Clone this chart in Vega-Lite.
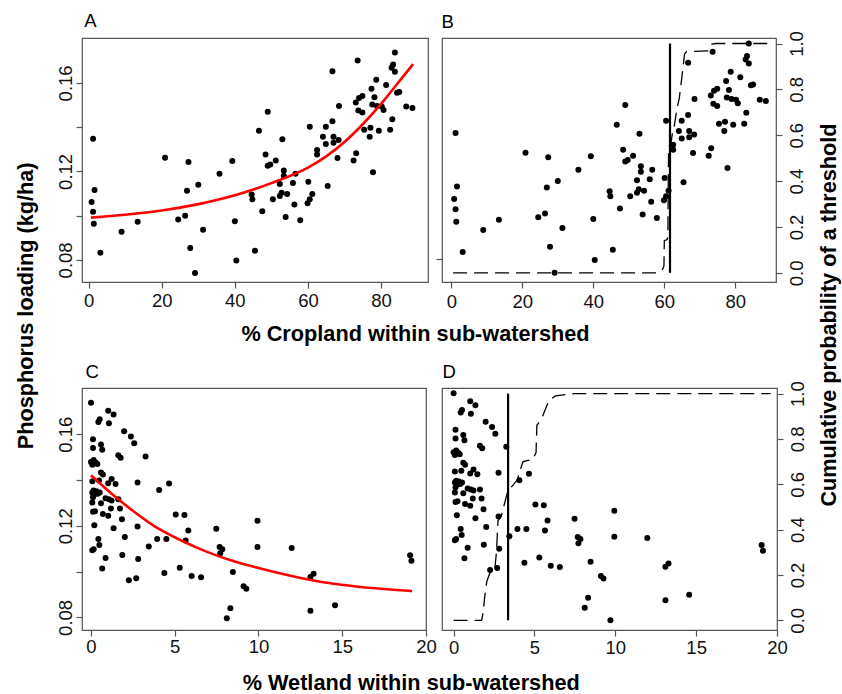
{
  "$schema": "https://vega.github.io/schema/vega-lite/v6.json",
  "background": "white",
  "autosize": {"type": "pad"},
  "padding": {"left": 14, "top": 10, "right": 0, "bottom": 0},
  "columns": 2,
  "spacing": {"row": 106, "column": 14},
  "bounds": "flush",
  "align": "each",
  "config": {
    "font": "Liberation Sans",
    "view": {"stroke": "#555", "strokeWidth": 1.2},
    "axis": {"domain": false, "grid": false, "ticks": true, "tickColor": "#555", "tickWidth": 1.2, "tickSize": 6,
      "labelFont": "Liberation Sans", "labelFontSize": 18.5, "labelColor": "#111", "labelFlush": false, "labelOverlap": false, "labelBound": false,
      "titleFont": "Liberation Sans", "titleFontSize": 21.7, "titleFontWeight": "bold", "titleColor": "#000"},
    "axisX": {"labelAngle": 0, "labelAlign": "center", "labelBaseline": "alphabetic"},
    "axisY": {"labelAngle": -90, "labelAlign": "center", "labelBaseline": "alphabetic"}
  },
  "datasets": {
    "crop": [
      {"x":1.2,"p":0.1348},{"x":1.6,"p":0.1116},{"x":0.8,"p":0.1062},{"x":1.2,"p":0.1017},{"x":1.4,"p":0.0963},{"x":3.2,"p":0.0832},{"x":9.0,"p":0.0927},{"x":13.4,"p":0.0972},{"x":20.9,"p":0.1262},{"x":24.5,"p":0.0982},{"x":26.4,"p":0.0999},{"x":27.3,"p":0.1243},{"x":26.9,"p":0.1112},{"x":27.8,"p":0.0854},{"x":29.1,"p":0.0741},{"x":30.0,"p":0.1140},{"x":31.3,"p":0.0936},{"x":35.8,"p":0.1189},{"x":39.3,"p":0.1247},{"x":40.0,"p":0.0975},{"x":40.4,"p":0.0797},
      {"x":49.0,"p":0.1470},{"x":46.6,"p":0.1384},{"x":53.0,"p":0.1345},{"x":60.5,"p":0.1402},{"x":64.9,"p":0.1402},{"x":66.7,"p":0.1427},{"x":66.7,"p":0.1653},{"x":68.5,"p":0.1496},{"x":64.1,"p":0.1357},{"x":64.9,"p":0.1324},{"x":67.0,"p":0.1357},{"x":67.0,"p":0.1330},{"x":68.4,"p":0.1342},{"x":68.1,"p":0.1261},{"x":62.5,"p":0.1297},{"x":62.5,"p":0.1276},{"x":65.4,"p":0.1134},{"x":60.1,"p":0.1153},{"x":61.2,"p":0.1098},{"x":60.5,"p":0.1074},{"x":59.9,"p":0.1056},{"x":57.9,"p":0.0979},{"x":56.6,"p":0.1189},{"x":55.9,"p":0.1147},{"x":56.3,"p":0.1050},{"x":53.9,"p":0.0994},{"x":53.4,"p":0.1204},{"x":53.4,"p":0.1180},{"x":52.3,"p":0.1143},{"x":52.8,"p":0.1104},{"x":52.3,"p":0.1089},{"x":54.3,"p":0.1098},{"x":50.4,"p":0.1074},{"x":48.4,"p":0.1276},{"x":49.0,"p":0.1225},{"x":49.7,"p":0.1231},{"x":51.2,"p":0.1249},{"x":44.6,"p":0.1095},{"x":44.8,"p":0.1074},{"x":47.5,"p":0.1020},{"x":45.5,"p":0.0841},
      {"x":83.8,"p":0.1737},{"x":73.6,"p":0.1701},{"x":82.9,"p":0.1668},{"x":83.3,"p":0.1683},{"x":83.8,"p":0.1650},{"x":78.7,"p":0.1614},{"x":77.4,"p":0.1574},{"x":81.4,"p":0.1590},{"x":84.4,"p":0.1556},{"x":85.0,"p":0.1559},{"x":78.2,"p":0.1535},{"x":74.9,"p":0.1541},{"x":74.0,"p":0.1532},{"x":73.1,"p":0.1511},{"x":77.6,"p":0.1502},{"x":78.9,"p":0.1496},{"x":80.2,"p":0.1493},{"x":80.7,"p":0.1478},{"x":86.9,"p":0.1493},{"x":88.6,"p":0.1487},{"x":73.8,"p":0.1475},{"x":74.9,"p":0.1466},{"x":83.1,"p":0.1436},{"x":75.4,"p":0.1388},{"x":77.1,"p":0.1397},{"x":79.4,"p":0.1384},{"x":82.5,"p":0.1388},{"x":76.9,"p":0.1357},{"x":73.2,"p":0.1282},{"x":72.5,"p":0.1249},{"x":77.8,"p":0.1196}
    ],
    "wet": [
      {"x":0.0,"p":0.1738,"c":true},{"x":1.03,"p":0.1703,"c":true},{"x":1.35,"p":0.1686,"c":true},{"x":0.52,"p":0.1665,"c":true},{"x":0.44,"p":0.1654,"c":true},{"x":1.07,"p":0.1648,"c":true},{"x":1.98,"p":0.1613,"c":true},{"x":2.38,"p":0.1590,"c":true},{"x":2.58,"p":0.1561,"c":true},{"x":0.12,"p":0.1578,"c":true},{"x":0.60,"p":0.1555,"c":true},{"x":0.12,"p":0.1540,"c":true},{"x":0.67,"p":0.1532,"c":true},{"x":1.63,"p":0.1508,"c":true},{"x":1.77,"p":0.1497,"c":true},{"x":3.26,"p":0.1503,"c":true},
      {"x":0.00,"p":0.1479,"c":true},{"x":0.16,"p":0.1487,"c":true},{"x":0.28,"p":0.1477,"c":true},{"x":0.08,"p":0.1467,"c":true},{"x":0.38,"p":0.1470,"c":true},{"x":0.60,"p":0.1433,"c":true},{"x":0.71,"p":0.1424,"c":true},{"x":0.08,"p":0.1395,"c":true},{"x":1.23,"p":0.1404,"c":true},{"x":1.03,"p":0.1386,"c":true},{"x":1.47,"p":0.1383,"c":true},{"x":2.78,"p":0.1389,"c":true},{"x":0.48,"p":0.1398,"c":true},
      {"x":0.16,"p":0.1354,"c":true},{"x":0.32,"p":0.1351,"c":true},{"x":0.52,"p":0.1346,"c":true},{"x":0.20,"p":0.1337,"c":true},{"x":0.40,"p":0.1340,"c":true},{"x":0.08,"p":0.1346,"c":true},{"x":0.87,"p":0.1320,"c":true},{"x":0.12,"p":0.1325,"c":true},{"x":0.60,"p":0.1299,"c":true},{"x":0.08,"p":0.1302,"c":true},{"x":1.07,"p":0.1316,"c":true},{"x":1.23,"p":0.1311,"c":true},{"x":1.63,"p":0.1316,"c":true},
      {"x":0.12,"p":0.1261,"c":true},{"x":0.24,"p":0.1264,"c":true},{"x":0.71,"p":0.1252,"c":true},{"x":1.03,"p":0.1244,"c":true},{"x":1.19,"p":0.1276,"c":true},{"x":1.73,"p":0.1276,"c":true},{"x":1.85,"p":0.1229,"c":true},{"x":0.20,"p":0.1203,"c":true},{"x":1.35,"p":0.1189,"c":true},{"x":2.78,"p":0.1197,"c":true},{"x":2.02,"p":0.1151,"c":true},{"x":0.44,"p":0.1142,"c":true},{"x":0.50,"p":0.1116,"c":true},{"x":0.08,"p":0.1093,"c":true},{"x":0.16,"p":0.1098,"c":true},{"x":0.87,"p":0.1060,"c":true},{"x":1.87,"p":0.1073,"c":true},{"x":3.45,"p":0.1110,"c":true},{"x":0.67,"p":0.1014,"c":true},{"x":2.82,"p":0.1055,"c":true},{"x":2.26,"p":0.0962,"c":true},{"x":2.70,"p":0.0971,"c":true},
      {"x":4.07,"p":0.1356,"c":true},{"x":4.66,"p":0.1385,"c":true},{"x":5.06,"p":0.1250,"c":true},{"x":5.58,"p":0.1247,"c":true},{"x":5.81,"p":0.1180,"c":true},{"x":3.95,"p":0.1142,"c":true},{"x":4.50,"p":0.1142,"c":true},{"x":5.65,"p":0.1136,"c":true},{"x":4.38,"p":0.0994,"c":true},{"x":5.30,"p":0.1017,"c":true},{"x":6.01,"p":0.0981,"c":true},{"x":6.57,"p":0.0975,"c":true},{"x":7.48,"p":0.1187,"c":true},{"x":7.68,"p":0.1107,"c":true},{"x":7.84,"p":0.1098,"c":true},{"x":7.72,"p":0.1080,"c":true},{"x":8.47,"p":0.0998,"c":true},{"x":8.32,"p":0.0840,"c":true},{"x":8.11,"p":0.0796,"c":true},{"x":9.11,"p":0.0936,"c":true},{"x":9.27,"p":0.0925,"c":true},{"x":9.94,"p":0.1222,"c":true},{"x":9.94,"p":0.1108,"c":true},{"x":11.98,"p":0.1103,"c":true},{"x":13.10,"p":0.0976,"c":true},{"x":13.29,"p":0.0991,"c":true},{"x":13.10,"p":0.0829,"c":true},{"x":14.57,"p":0.0853,"c":true},{"x":19.05,"p":0.1072,"c":true},{"x":19.13,"p":0.1047,"c":true},
      {"x":9.7,"p":0.0741,"c":false}
    ],
    "curveA": [
      {"x":0.6,"p":0.0991},{"x":10,"p":0.1004},{"x":20,"p":0.1023},{"x":30,"p":0.1052},{"x":40,"p":0.1092},{"x":50,"p":0.1147},{"x":60,"p":0.1217},{"x":65,"p":0.1268},{"x":70,"p":0.1333},{"x":75,"p":0.1413},{"x":80,"p":0.1505},{"x":84.4,"p":0.1595},{"x":88.8,"p":0.1685}
    ],
    "curveC": [
      {"x":0.0,"p":0.1421},{"x":1.27,"p":0.1338},{"x":2.46,"p":0.1268},{"x":3.9,"p":0.1193},{"x":5.06,"p":0.1148},{"x":6.25,"p":0.1107},{"x":7.44,"p":0.1072},{"x":8.63,"p":0.1043},{"x":9.82,"p":0.1019},{"x":12.1,"p":0.0979},{"x":14.09,"p":0.0951},{"x":16.07,"p":0.0933},{"x":18.05,"p":0.0921},{"x":19.17,"p":0.0915}
    ],
    "cdfB": [
      {"x":0.5,"v":0},{"x":58.0,"v":0},{"x":59.0,"v":0.006},{"x":59.6,"v":0.018},{"x":59.9,"v":0.03},{"x":60.0,"v":0.14},{"x":60.8,"v":0.145},{"x":61.0,"v":0.16},{"x":61.2,"v":0.55},{"x":61.8,"v":0.56},{"x":62.3,"v":0.61},{"x":62.8,"v":0.64},{"x":63.6,"v":0.72},{"x":64.2,"v":0.76},{"x":65.0,"v":0.86},{"x":65.7,"v":0.955},{"x":66.3,"v":0.965},{"x":72.2,"v":0.968},{"x":72.7,"v":0.985},{"x":73.4,"v":0.997},{"x":74.5,"v":1.0},{"x":89.5,"v":1.0}
    ],
    "cdfD": [
      {"x":0,"v":0},{"x":1.73,"v":0},{"x":1.82,"v":0.03},{"x":1.92,"v":0.1},{"x":2.05,"v":0.17},{"x":2.25,"v":0.21},{"x":2.55,"v":0.225},{"x":2.65,"v":0.3},{"x":2.75,"v":0.44},{"x":2.95,"v":0.46},{"x":3.35,"v":0.57},{"x":3.6,"v":0.59},{"x":3.95,"v":0.62},{"x":4.1,"v":0.66},{"x":4.3,"v":0.70},{"x":4.9,"v":0.71},{"x":5.1,"v":0.74},{"x":5.15,"v":0.86},{"x":5.45,"v":0.89},{"x":5.9,"v":0.97},{"x":6.3,"v":0.99},{"x":7.5,"v":1.0},{"x":19.6,"v":1.0}
    ],
    "thrB": [{"x":61.6,"v":0,"v2":1}],
    "thrD": [{"x":3.37,"v":0,"v2":1}]
  },
  "concat": [
    {
      "width": 346, "height": 244,
      "layer": [
        {"data": {"name": "crop"}, "mark": {"type": "circle", "size": 36, "color": "black", "opacity": 1},
          "encoding": {
            "x": {"field": "x", "type": "quantitative", "scale": {"domain": [-1.83, 92.86], "nice": false, "zero": false},
              "axis": {"values": [0, 20, 40, 60, 80], "labelPadding": 18.5, "title": "% Cropland within sub-watershed", "titleX": 333, "titleY": 58.5, "titleAlign": "center", "titleBaseline": "alphabetic"}},
            "y": {"field": "p", "type": "quantitative", "scale": {"domain": [0.0700, 0.1803], "nice": false, "zero": false},
              "axis": {"values": [0.08, 0.1, 0.12, 0.14, 0.16], "labelExpr": "round(datum.value*100)%4==0 ? format(datum.value,'.2f') : ''", "labelPadding": 5,
                "title": "Phosphorus loading (kg/ha)", "titleAngle": -90, "titleX": -50, "titleY": 267.3, "titleAlign": "center", "titleBaseline": "alphabetic"}}
          }},
        {"data": {"name": "curveA"}, "mark": {"type": "line", "color": "#ff0000", "strokeWidth": 2.6, "interpolate": "monotone"},
          "encoding": {"x": {"field": "x", "type": "quantitative"}, "y": {"field": "p", "type": "quantitative"}}}
      ]
    },
    {
      "width": 334, "height": 244,
      "layer": [
        {"data": {"name": "crop"}, "mark": {"type": "circle", "size": 36, "color": "black", "opacity": 1},
          "encoding": {
            "x": {"field": "x", "type": "quantitative", "scale": {"domain": [-2.62, 91.46], "nice": false, "zero": false},
              "axis": {"values": [0, 20, 40, 60, 80], "labelPadding": 19,
                "title": "A", "titleFontWeight": "normal", "titleFontSize": 18.5, "titleX": -358.3, "titleY": -255.7, "titleAlign": "left", "titleBaseline": "alphabetic", "titleAngle": 0}},
            "y": {"field": "p", "type": "quantitative", "scale": {"domain": [0.07012, 0.17609], "nice": false, "zero": false},
              "axis": {"values": [0.08], "labels": false,
                "title": "B", "titleFontWeight": "normal", "titleFontSize": 18.5, "titleX": -1, "titleY": -11, "titleAlign": "left", "titleBaseline": "alphabetic", "titleAngle": 0}}
          }},
        {
          "layer": [
            {"data": {"name": "cdfB"}, "mark": {"type": "line", "color": "black", "strokeWidth": 1.3, "strokeDash": [14, 7]},
              "encoding": {
                "x": {"field": "x", "type": "quantitative"},
                "y": {"field": "v", "type": "quantitative", "scale": {"domain": [-0.04, 1.024], "nice": false, "zero": false},
                  "axis": {"orient": "right", "values": [0, 0.2, 0.4, 0.6, 0.8, 1], "format": ".1f", "labelPadding": 20,
                    "title": "Cumulative probability of a threshold", "titleAngle": -90, "titleX": 59, "titleY": 276.5, "titleAlign": "center", "titleBaseline": "alphabetic"}}
              }},
            {"data": {"name": "thrB"}, "mark": {"type": "rule", "color": "black", "strokeWidth": 2.2},
              "encoding": {"x": {"field": "x", "type": "quantitative"}, "y": {"field": "v", "type": "quantitative"}, "y2": {"field": "v2"}}}
          ]
        }
      ],
      "resolve": {"scale": {"y": "independent"}}
    },
    {
      "width": 344, "height": 242,
      "layer": [
        {"data": {"name": "wet"}, "transform": [{"filter": "datum.c"}], "mark": {"type": "circle", "size": 36, "color": "black", "opacity": 1},
          "encoding": {
            "x": {"field": "x", "type": "quantitative", "scale": {"domain": [-0.536, 20.0], "nice": false, "zero": false},
              "axis": {"values": [0, 5, 10, 15, 20], "labelPadding": 16.5, "title": "% Wetland within sub-watershed", "titleX": 328.7, "titleY": 59, "titleAlign": "center", "titleBaseline": "alphabetic"}},
            "y": {"field": "p", "type": "quantitative", "scale": {"domain": [0.0745, 0.1802], "nice": false, "zero": false},
              "axis": {"values": [0.08, 0.1, 0.12, 0.14, 0.16], "labelExpr": "round(datum.value*100)%4==0 ? format(datum.value,'.2f') : ''", "labelPadding": 5,
                "title": "C", "titleFontWeight": "normal", "titleFontSize": 18.5, "titleX": 3, "titleY": -11, "titleAlign": "left", "titleBaseline": "alphabetic", "titleAngle": 0}}
          }},
        {"data": {"name": "curveC"}, "mark": {"type": "line", "color": "#ff0000", "strokeWidth": 2.6, "interpolate": "monotone"},
          "encoding": {"x": {"field": "x", "type": "quantitative"}, "y": {"field": "p", "type": "quantitative"}}}
      ]
    },
    {
      "width": 335, "height": 242,
      "layer": [
        {"data": {"name": "wet"}, "mark": {"type": "circle", "size": 36, "color": "black", "opacity": 1},
          "encoding": {
            "x": {"field": "x", "type": "quantitative", "scale": {"domain": [-0.716, 20.0], "nice": false, "zero": false},
              "axis": {"values": [0, 5, 10, 15, 20], "labelPadding": 17.4, "title": null}},
            "y": {"field": "p", "type": "quantitative", "scale": {"domain": [0.06984, 0.17616], "nice": false, "zero": false},
              "axis": {"ticks": false, "labels": false,
                "title": "D", "titleFontWeight": "normal", "titleFontSize": 18.5, "titleX": 0, "titleY": -11, "titleAlign": "left", "titleBaseline": "alphabetic", "titleAngle": 0}}
          }},
        {
          "layer": [
            {"data": {"name": "cdfD"}, "mark": {"type": "line", "color": "black", "strokeWidth": 1.3, "strokeDash": [14, 7]},
              "encoding": {
                "x": {"field": "x", "type": "quantitative"},
                "y": {"field": "v", "type": "quantitative", "scale": {"domain": [-0.0428, 1.0247], "nice": false, "zero": false},
                  "axis": {"orient": "right", "values": [0, 0.2, 0.4, 0.6, 0.8, 1], "format": ".1f", "labelPadding": 20, "title": null}}
              }},
            {"data": {"name": "thrD"}, "mark": {"type": "rule", "color": "black", "strokeWidth": 2.2},
              "encoding": {"x": {"field": "x", "type": "quantitative"}, "y": {"field": "v", "type": "quantitative"}, "y2": {"field": "v2"}}}
          ]
        }
      ],
      "resolve": {"scale": {"y": "independent"}}
    }
  ]
}
